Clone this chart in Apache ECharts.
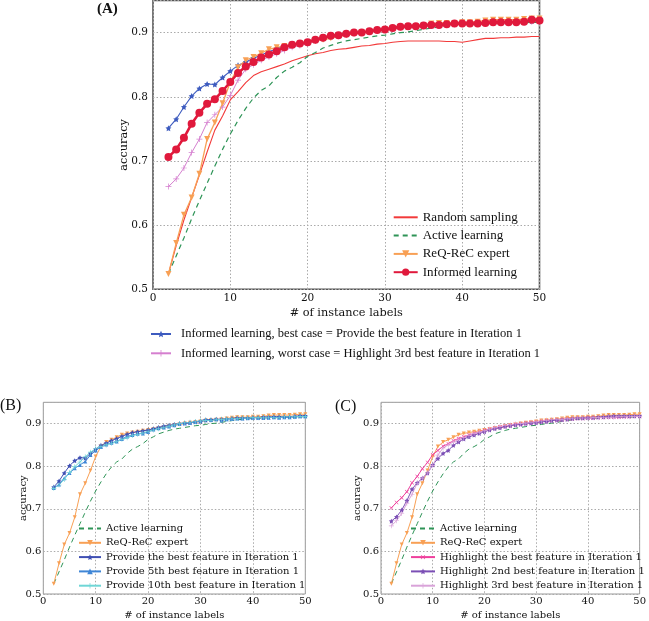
<!DOCTYPE html>
<html><head><meta charset="utf-8">
<script src="https://cdn.jsdelivr.net/npm/echarts@6/dist/echarts.min.js"></script>
<style>html,body{margin:0;padding:0;background:#fff}#c{width:649px;height:621px}</style>
</head><body><div id="c"></div>
<script>
const xLabels = [2,3,4,5,6,7,8,9,10,11,12,13,14,15,16,17,18,19,20,21,22,23,24,25,26,27,28,29,30,31,32,33,34,35,36,37,38,39,40,41,42,43,44,45,46,47,48,49,50];
const xTicks = [0,10,20,30,40,50];
const yTicks = [0.5,0.6,0.7,0.8,0.9];

const randomSampling = [0.524,0.568,0.608,0.643,0.678,0.714,0.748,0.770,0.795,0.808,0.822,0.833,0.839,0.843,0.847,0.851,0.856,0.860,0.864,0.867,0.869,0.872,0.874,0.875,0.877,0.879,0.880,0.882,0.883,0.885,0.886,0.887,0.887,0.887,0.887,0.887,0.886,0.886,0.885,0.887,0.889,0.891,0.891,0.892,0.892,0.893,0.893,0.894,0.894];
const activeLearning = [0.524,0.552,0.580,0.610,0.638,0.665,0.692,0.718,0.742,0.763,0.782,0.798,0.810,0.817,0.830,0.840,0.846,0.853,0.863,0.869,0.876,0.880,0.884,0.887,0.889,0.891,0.893,0.895,0.896,0.898,0.900,0.901,0.903,0.905,0.907,0.909,0.910,0.911,0.912,0.913,0.913,0.914,0.914,0.914,0.915,0.915,0.915,0.916,0.916];
const reqRec = [0.524,0.572,0.616,0.643,0.680,0.734,0.760,0.790,0.823,0.846,0.857,0.862,0.868,0.874,0.877,0.879,0.881,0.883,0.885,0.887,0.889,0.891,0.894,0.896,0.898,0.900,0.902,0.903,0.905,0.907,0.908,0.909,0.910,0.912,0.914,0.915,0.915,0.915,0.916,0.916,0.917,0.919,0.920,0.920,0.920,0.920,0.921,0.922,0.922];
const informed = [0.706,0.718,0.736,0.758,0.775,0.789,0.796,0.809,0.823,0.837,0.847,0.854,0.861,0.866,0.871,0.877,0.881,0.883,0.885,0.889,0.892,0.895,0.896,0.898,0.900,0.900,0.902,0.904,0.905,0.907,0.909,0.910,0.910,0.911,0.912,0.912,0.913,0.914,0.914,0.914,0.914,0.915,0.916,0.916,0.916,0.916,0.917,0.920,0.919];
const bestCase = [0.751,0.765,0.784,0.801,0.813,0.820,0.819,0.830,0.840,0.849,0.854,0.860,0.865,0.870,0.875,0.879,0.881,0.883,0.885,0.888,0.891,0.894,0.896,0.898,0.900,0.901,0.902,0.904,0.905,0.908,0.909,0.910,0.910,0.911,0.912,0.913,0.913,0.913,0.914,0.914,0.915,0.915,0.916,0.916,0.916,0.916,0.917,0.918,0.918];
const worstCase = [0.660,0.672,0.689,0.713,0.734,0.760,0.772,0.784,0.802,0.826,0.843,0.850,0.857,0.862,0.867,0.872,0.877,0.880,0.883,0.887,0.890,0.893,0.895,0.897,0.899,0.900,0.901,0.903,0.904,0.906,0.908,0.909,0.909,0.910,0.911,0.912,0.913,0.913,0.913,0.914,0.914,0.915,0.915,0.915,0.916,0.916,0.916,0.917,0.917];
const provide5th = [0.749,0.757,0.772,0.784,0.795,0.803,0.811,0.826,0.837,0.845,0.851,0.855,0.858,0.864,0.870,0.873,0.876,0.877,0.880,0.886,0.889,0.891,0.893,0.896,0.899,0.901,0.902,0.904,0.907,0.910,0.909,0.911,0.907,0.910,0.911,0.912,0.912,0.913,0.914,0.914,0.913,0.914,0.915,0.914,0.915,0.915,0.916,0.917,0.917];
const provide10th = [0.748,0.756,0.769,0.785,0.799,0.810,0.822,0.833,0.841,0.846,0.850,0.854,0.858,0.863,0.867,0.872,0.875,0.878,0.882,0.885,0.888,0.891,0.894,0.897,0.900,0.902,0.903,0.905,0.906,0.907,0.908,0.909,0.910,0.911,0.912,0.912,0.913,0.913,0.914,0.914,0.915,0.915,0.915,0.915,0.916,0.916,0.916,0.917,0.917];
const highlightBest = [0.702,0.715,0.726,0.740,0.761,0.776,0.794,0.809,0.827,0.837,0.847,0.853,0.860,0.865,0.869,0.873,0.877,0.880,0.884,0.887,0.889,0.892,0.894,0.896,0.898,0.899,0.901,0.902,0.903,0.905,0.906,0.907,0.908,0.909,0.910,0.911,0.912,0.912,0.913,0.913,0.914,0.914,0.915,0.915,0.915,0.916,0.916,0.917,0.917];
const highlight2nd = [0.671,0.681,0.697,0.719,0.746,0.761,0.772,0.784,0.803,0.818,0.830,0.837,0.849,0.857,0.864,0.869,0.873,0.877,0.881,0.885,0.888,0.890,0.893,0.895,0.897,0.898,0.900,0.901,0.902,0.904,0.905,0.907,0.908,0.909,0.910,0.912,0.913,0.913,0.914,0.914,0.915,0.916,0.917,0.918,0.918,0.918,0.918,0.918,0.918];
const highlight3rd = worstCase;

const STAR = 'path://M0,-10 L2.94,-4.05 9.51,-3.09 4.76,1.55 5.88,8.09 0,5 -5.88,8.09 -4.76,1.55 -9.51,-3.09 -2.94,-4.05Z';
const PLUS = 'path://M-1.2,-10 L1.2,-10 L1.2,-1.2 L10,-1.2 L10,1.2 L1.2,1.2 L1.2,10 L-1.2,10 L-1.2,1.2 L-10,1.2 L-10,-1.2 L-1.2,-1.2Z';

const C = {
  random:'#f23a3a', active:'#2e9457', req:'#f8a055', informed:'#e0193c',
  best:'#3d5bbf', worst:'#d57fcf', p5:'#3f86d6', p10:'#6fd6d6',
  hBest:'#ef3f9c', h2:'#7b4fb5', h3:'#d9a3d9'
};

const zip = arr => xLabels.map((x,i)=>[x,arr[i]]);

function line(name, data, gi, color, opt) {
  opt = opt || {};
  return {
    name, type:'line', xAxisIndex:gi, yAxisIndex:gi, data: zip(data),
    color, showSymbol: !!opt.symbol, symbol: opt.symbol || 'none',
    symbolSize: opt.size || 5, symbolRotate: opt.rot || 0,
    lineStyle:{color, width: opt.width || 1.1, type: opt.dash ? [5,4] : 'solid'},
    itemStyle:{color},
    z: opt.z || 2, animation:false, silent:true
  };
}

const grids = [
  {left:153, top:0.5, width:386.5, height:288.8},
  {left:43.3, top:402.3, width:262, height:196.4},
  {left:381, top:402.3, width:262.3, height:196.4}
];
const borderCol = ['#555','#999','#999'];

const serif = 'DejaVu Serif';
const xAxes = grids.map((g,i)=>({
  gridIndex:i, type:'value', min:xTicks[0], max:xTicks[xTicks.length-1], interval:10,
  axisLine:{show:false}, axisTick:{show:false},
  axisLabel:{color:'#111', fontFamily:serif, fontSize: i===0?10.5:10, margin: i===0?3:2},
  splitLine:{show:true, lineStyle:{color:'#aaa', type:[1.5,2], width:1}},
  name:'# of instance labels', nameLocation:'middle', nameGap: i===0?18.5:16, nameMoveOverlap:false,
  nameTextStyle:{color:'#111', fontFamily:serif, fontSize: i===0?11.3:10}
}));
const yAxes = grids.map((g,i)=>({
  gridIndex:i, type:'value', min:yTicks[0], max:0.95, interval:0.1,
  axisLine:{show:false}, axisTick:{show:false},
  axisLabel:{color:'#111', fontFamily:serif, fontSize: i===0?10.5:10, margin: i===0?5:2,
    formatter:v=> (Math.abs(v-0.95)<1e-6 ? '' : v.toFixed(1))},
  splitLine:{show:true, lineStyle:{color:'#aaa', type:[1.5,2], width:1}},
  name:'accuracy', nameLocation:'middle', nameGap: i===0?23:(i===1?15:19), nameRotate:90, nameMoveOverlap:false,
  nameTextStyle:{color:'#111', fontFamily:serif, fontSize: i===0?11.3:10}
}));

const series = [
  // Panel A
  line('Informed learning, best case = Provide the best feature in Iteration 1', bestCase, 0, C.best, {symbol:STAR, size:6}),
  line('Informed learning, worst case = Highlight 3rd best feature in Iteration 1', worstCase, 0, C.worst, {symbol:PLUS, size:6, width:1}),
  line('Random sampling', randomSampling, 0, C.random, {width:1.1}),
  line('Active learning', activeLearning, 0, C.active, {dash:true, width:1.2}),
  line('ReQ-ReC expert', reqRec, 0, C.req, {symbol:'triangle', rot:180, size:6, width:1.3}),
  line('Informed learning', informed, 0, C.informed, {symbol:'circle', size:8, width:2.6, z:5}),
  // Panel B
  line('Active learning', activeLearning, 1, C.active, {dash:true, width:1}),
  line('ReQ-ReC expert', reqRec, 1, C.req, {symbol:'triangle', rot:180, size:4, width:1}),
  line('Provide the best feature in Iteration 1', bestCase, 1, '#3f4fb3', {symbol:STAR, size:5, width:1}),
  line('Provide 5th best feature in Iteration 1', provide5th, 1, C.p5, {symbol:'triangle', size:4, width:1}),
  line('Provide 10th best feature in Iteration 1', provide10th, 1, C.p10, {symbol:PLUS, size:5, width:1}),
  // Panel C
  line('Active learning', activeLearning, 2, C.active, {dash:true, width:1}),
  line('ReQ-ReC expert', reqRec, 2, C.req, {symbol:'triangle', rot:180, size:4, width:1}),
  line('Highlight the best feature in Iteration 1', highlightBest, 2, C.hBest, {symbol:PLUS, rot:45, size:5, width:1}),
  line('Highlight 2nd best feature in Iteration 1', highlight2nd, 2, C.h2, {symbol:STAR, size:5, width:1}),
  line('Highlight 3rd best feature in Iteration 1', highlight3rd, 2, C.h3, {symbol:PLUS, size:5, width:1})
];

const noMark = name => ({name, itemStyle:{opacity:0, color:'rgba(0,0,0,0)', borderWidth:0}});
const legBase = {orient:'vertical', selectedMode:false, backgroundColor:'transparent', padding:0};
const legends = [
  Object.assign({}, legBase, {left:392.7, top:210.3, itemWidth:24, itemHeight:9, itemGap:4.3,
    textStyle:{fontFamily:'Liberation Serif', fontSize:13, lineHeight:14, color:'#111'},
    data:[noMark('Random sampling'), noMark('Active learning'),'ReQ-ReC expert','Informed learning']}),
  Object.assign({}, legBase, {left:150, top:327, itemWidth:20, itemHeight:8, itemGap:5.3,
    textStyle:{fontFamily:'Liberation Serif', fontSize:12.5, lineHeight:14, color:'#111', padding:[0,0,0,5]},
    data:['Informed learning, best case = Provide the best feature in Iteration 1',
          'Informed learning, worst case = Highlight 3rd best feature in Iteration 1']}),
  Object.assign({}, legBase, {left:78, top:523, itemWidth:22, itemHeight:7, itemGap:3.3,
    textStyle:{fontFamily:serif, fontSize:10, lineHeight:11, color:'#111'},
    data:[noMark('Active learning'),'ReQ-ReC expert','Provide the best feature in Iteration 1',
          'Provide 5th best feature in Iteration 1','Provide 10th best feature in Iteration 1']}),
  Object.assign({}, legBase, {left:410, top:523, itemWidth:24, itemHeight:7, itemGap:3.3,
    textStyle:{fontFamily:serif, fontSize:10, lineHeight:11, color:'#111'},
    data:[noMark('Active learning'),'ReQ-ReC expert','Highlight the best feature in Iteration 1',
          'Highlight 2nd best feature in Iteration 1','Highlight 3rd best feature in Iteration 1']})
];

const chart = echarts.init(document.getElementById('c'), null, {renderer:'canvas'});
chart.setOption({
  animation:false,
  backgroundColor:'#fff',
  grid: grids.map((g,i)=>Object.assign({show:true, borderColor:borderCol[i], borderWidth: i===0?1.6:1, backgroundColor:'transparent', containLabel:false}, g)),
  xAxis: xAxes, yAxis: yAxes, series, legend: legends,
  graphic:[
    {type:'text', left:97, top:2, style:{text:'(A)', font:'bold 15px "Liberation Serif"', fill:'#111'}},
    {type:'text', left:0, top:398, style:{text:'(B)', font:'16px "Liberation Serif"', fill:'#111'}},
    {type:'text', left:335, top:399, style:{text:'(C)', font:'16px "Liberation Serif"', fill:'#111'}}
  ]
});
</script></body></html>
